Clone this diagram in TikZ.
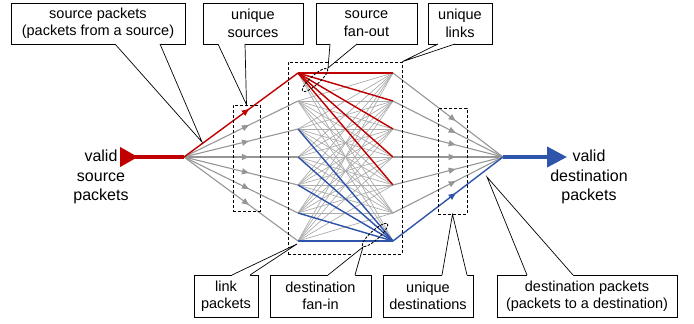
\documentclass[tikz,border=0pt]{standalone}
\usepackage{fontspec}
\setmainfont{Liberation Sans}
\usepackage{tikz}
\usetikzlibrary{arrows.meta}
\usetikzlibrary{decorations.markings}
\definecolor{srcred}{RGB}{192,0,0}
\definecolor{dstblue}{RGB}{47,85,170}
\definecolor{linkgray}{RGB}{172,172,172}
\definecolor{fangray}{RGB}{150,150,150}
% wedge of a callout: base a, base b, tip, shift into the box
\newcommand{\pointer}[4]{%
  \fill[white] (#1) -- (#3) -- (#2) -- ([yshift=#4]#2) -- ([yshift=#4]#1) -- cycle;
  \draw[line width=0.7pt] (#1) -- (#3) -- (#2);}
% tilted dashed ring around a fan: centre x, centre y
\newcommand{\fanring}[2]{%
  \draw[dash pattern=on 2.5pt off 1.5pt, line width=0.9pt]
    plot[domain=0:360, samples=72, variable=\t]
      ({#1+16.5*cos(\t)*0.743+4.5*sin(\t)*0.669}, {#2-16.5*cos(\t)*0.669+4.5*sin(\t)*0.743}) -- cycle;}

\begin{document}
\begin{tikzpicture}[x=1pt, y=-1pt,
    note/.style={draw, fill=white, line width=0.7pt, inner sep=0pt, minimum height=41pt,
      align=center, font=\fontsize{14.5}{17.5}\selectfont},
    bigtext/.style={align=center, font=\fontsize{16}{19.5}\selectfont},
    groupbox/.style={draw, dash pattern=on 3pt off 2pt, line width=0.7pt, inner sep=0pt},
    midarrow/.style={postaction={decorate}, decoration={markings,
      mark=at position 0.57 with {\arrow{Triangle[length=7pt, width=6pt]}}}}]

    \useasboundingbox (0,0) rectangle (694,324);

    \coordinate (src) at (184,157);
    \coordinate (dst) at (503,157);
    \coordinate (srcin) at (120,157);
    \coordinate (dstout) at (567,157);
    \foreach \i in {1,...,7} {
        \coordinate (l\i) at (298,{73+28*(\i-1)});
        \coordinate (r\i) at (393,{73+28*(\i-1)});
    }

    % links
    \foreach \i in {1,...,7}
        \foreach \j in {1,...,7}
            \draw[linkgray, line width=0.7pt] (l\i) -- (r\j);
    \foreach \j in {1,...,5}
        \draw[srcred, line width=1.4pt] (l1) -- (r\j);
    \foreach \i in {3,...,7}
        \draw[dstblue, line width=1.4pt] (l\i) -- (r7);

    % fan out / fan in
    \foreach \i in {2,...,7}
        \draw[fangray, line width=1.1pt, midarrow] (src) -- (l\i);
    \draw[srcred, line width=1.4pt, midarrow] (src) -- (l1);
    \foreach \i in {1,...,6}
        \draw[fangray, line width=1.1pt, midarrow] (r\i) -- (dst);
    \draw[dstblue, line width=1.4pt, midarrow] (r7) -- (dst);

    \draw[srcred, line width=4pt, {Triangle[reversed, length=18pt, width=19pt]}-] (srcin) -- (src);
    \draw[dstblue, line width=4pt, -{Triangle[length=20pt, width=20pt]}] (dst) -- (dstout);

    \node[groupbox, minimum width=27pt, minimum height=106pt] (usbox) at (246.5,158) {};
    \node[groupbox, minimum width=114pt, minimum height=192pt] (linkbox) at (345,158) {};
    \node[groupbox, minimum width=29pt, minimum height=106pt] (udbox) at (452.5,161) {};
    \fanring{315}{80}
    \fanring{375}{235}
    \coordinate (fotip) at (328,68);
    \coordinate (fitip) at (363,247);

    \node[bigtext] (vsp) at (101,177) {valid\\source\\packets};
    \node[bigtext] (vdp) at (589,177) {valid\\destination\\packets};

    % callouts
    \node[note, minimum width=174pt] (sp) at (98,23.5) {source packets\\(packets from a source)};
    \coordinate (spt) at (202,142);
    \pointer{115,44}{160,44}{spt}{1pt}
    \node[note, minimum width=100pt] (us) at (253,23.5) {unique\\sources};
    \pointer{218,44}{245,44}{usbox.north}{1pt}
    \node[note, minimum width=101pt] (sf) at (366.5,23.5) {source\\fan-out};
    \pointer{330,44}{357,44}{fotip}{1pt}
    \node[note, minimum width=64pt] (ul) at (460,23.5) {unique\\links};
    \pointer{438,44}{455,44}{linkbox.north east}{1pt}

    \node[note, minimum width=64pt, minimum height=42pt] (lp) at (226,296) {link\\packets};
    \coordinate (lpt) at (297,244);
    \pointer{232,275}{250,275}{lpt}{-1pt}
    \node[note, minimum width=101pt, minimum height=42pt] (df) at (320.5,296) {destination\\fan-in};
    \pointer{328,275}{355,275}{fitip}{-1pt}
    \node[note, minimum width=90pt, minimum height=42pt] (ud) at (428,296) {unique\\destinations};
    \pointer{442,275}{467,275}{udbox.south}{-1pt}
    \node[note, minimum width=180pt, minimum height=42pt] (dp) at (587,296) {destination packets\\(packets to a destination)};
    \coordinate (dpt) at (487,177);
    \pointer{527,275}{573,275}{dpt}{-1pt}

\end{tikzpicture}
\end{document}
